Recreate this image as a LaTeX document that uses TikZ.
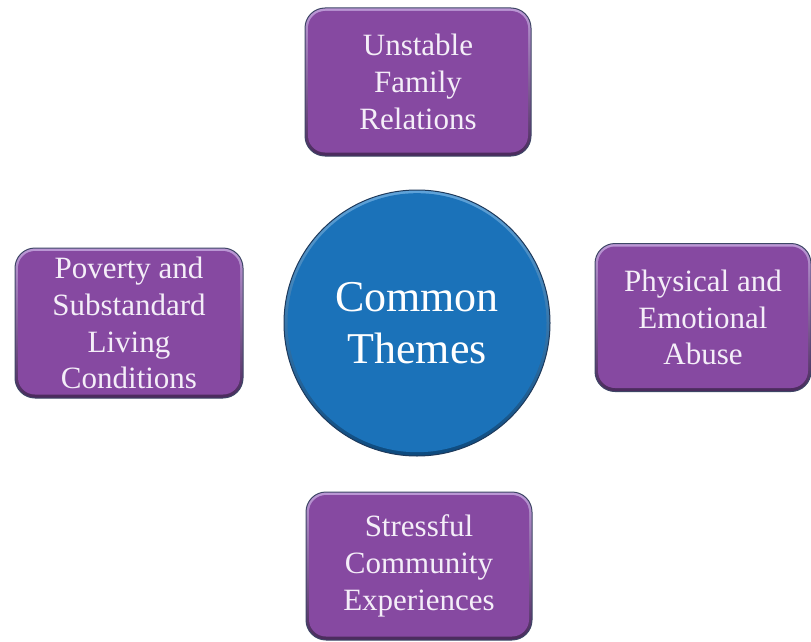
\documentclass[tikz,border=0pt]{standalone}
\usepackage{fontspec}
\setmainfont{Liberation Serif}
\definecolor{boxfill}{HTML}{8649A1}
\definecolor{boxlight}{HTML}{BC98D6}
\definecolor{boxdark}{HTML}{4A2A5C}
\definecolor{boxline}{HTML}{3E4666}
\definecolor{boxtext}{HTML}{F4EEF8}
\definecolor{hubfill}{HTML}{1B72B9}
\definecolor{hublight}{HTML}{5FA3DA}
\definecolor{hubdark}{HTML}{0D4A7E}
\definecolor{hubline}{HTML}{1E3A5C}
\begin{document}
\begin{tikzpicture}[x=1pt,y=-1pt,
  themebox/.style={
    rectangle, rounded corners=20pt, draw=boxline, line width=1pt,
    minimum width=#1, minimum height=148pt, inner sep=0pt,
    align=center, text=boxtext,
    font=\fontsize{31}{36.8}\selectfont,
    path picture={
      \shade[top color=boxlight, bottom color=boxdark]
        (path picture bounding box.south west) rectangle (path picture bounding box.north east);
      \fill[boxfill, rounded corners=17pt]
        ([shift={(3pt,3.5pt)}]path picture bounding box.south west) rectangle
        ([shift={(-3pt,-3pt)}]path picture bounding box.north east);
    }},
  hub/.style={
    circle, draw=hubline, line width=1pt, minimum size=266pt, inner sep=0pt,
    align=center, text=white,
    font=\fontsize{44}{54}\selectfont,
    path picture={
      \shade[top color=hublight, bottom color=hubdark]
        (path picture bounding box.south west) rectangle (path picture bounding box.north east);
      \fill[hubfill] ([yshift=0.3pt]path picture bounding box.center) circle (129.5pt);
    }}
]
\useasboundingbox (0,0) rectangle (811,642);

% central theme
\node[hub] (hub) at (417,323) {Common\\[-2pt]Themes};

% surrounding themes
\node[themebox=226pt] (family) at (418,82) {Unstable\\Family\\Relations};
\node[themebox=216pt] (abuse) at (703,317.5) {Physical and\\Emotional\\Abuse};
\node[themebox=228pt, minimum height=150pt] (poverty) at (129,323) {Poverty and\\Substandard\\Living\\Conditions};
\node[themebox=226pt] (community) at (419,566) {Stressful\\Community\\Experiences};
\end{tikzpicture}
\end{document}
